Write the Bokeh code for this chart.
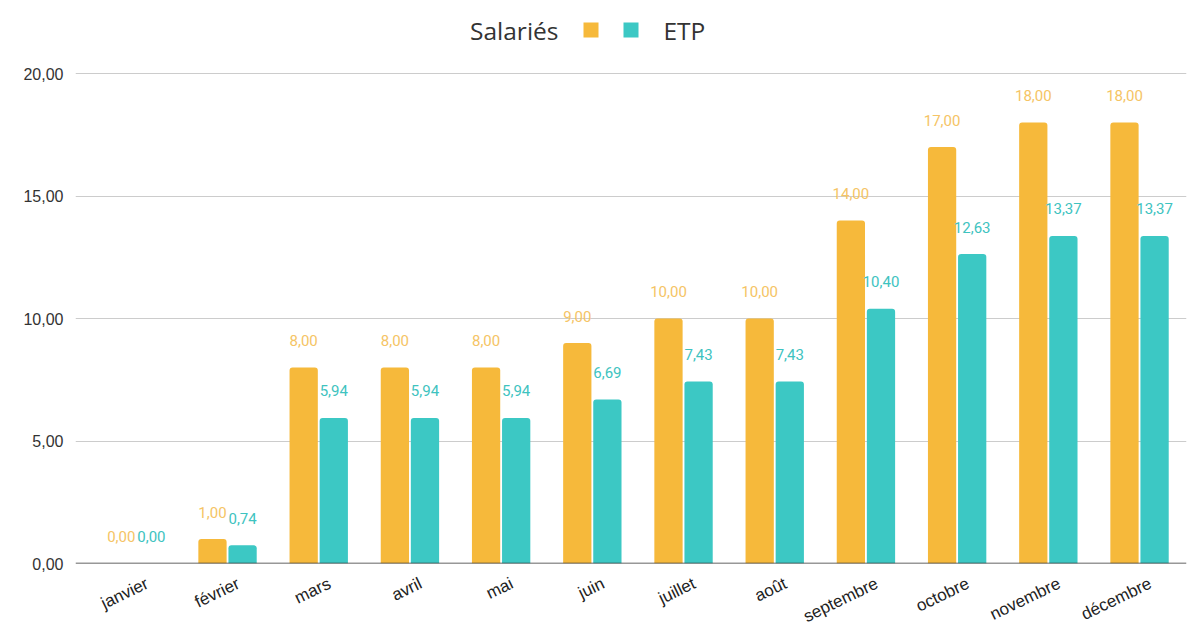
from bokeh.plotting import figure
from bokeh.layouts import column
from bokeh.models import ColumnDataSource, Range1d, FixedTicker, Span, LinearAxis
from bokeh.core.properties import value
from bokeh.embed import file_html
from bokeh.resources import INLINE

months = ["janvier", "février", "mars", "avril", "mai", "juin", "juillet",
          "août", "septembre", "octobre", "novembre", "décembre"]
salaries = [0, 1, 8, 8, 8, 9, 10, 10, 14, 17, 18, 18]
etp = [0, 0.74, 5.94, 5.94, 5.94, 6.69, 7.43, 7.43, 10.40, 12.63, 13.37, 13.37]
y_ticks = [0, 5, 10, 15, 20]

ORANGE = "#F6B93B"
TEAL = "#3CC8C4"
ORANGE_TXT = "#F5C465"
TEAL_TXT = "#3EC3C0"

def fr(v):
    return f"{v:.2f}".replace(".", ",")

idx = list(range(len(months)))
src = ColumnDataSource(dict(
    x_s=[i - 0.165 for i in idx],
    x_e=[i + 0.165 for i in idx],
    sal=salaries,
    etp=etp,
    sal_lbl=[fr(v) for v in salaries],
    etp_lbl=[fr(v) for v in etp],
))

X0, X1 = -0.667, 11.515
LBL_SHIFT = 0.12

# ---------- legend strip (frame aligned with the chart frame: 75..1186 px) ----------
leg = figure(frame_width=1111, frame_height=50, x_range=Range1d(75, 1186),
             y_range=Range1d(50, 0), output_backend="svg", toolbar_location=None,
             min_border=0, min_border_left=75, min_border_right=3)
leg.axis.visible = False
leg.grid.visible = False
leg.outline_line_color = None
leg.text(x=[558], y=[30], text=["Salariés"], text_font=value("Open Sans"),
         text_font_size="24.5px", text_color="#333333", text_align="right",
         text_baseline="middle")
leg.rect(x=[590.5], y=[29.5], width=15, height=15, fill_color=ORANGE, line_color=None)
leg.rect(x=[630.5], y=[29.5], width=15, height=15, fill_color=TEAL, line_color=None)
leg.text(x=[663], y=[30], text=["ETP"], text_font=value("Open Sans"),
         text_font_size="24.5px", text_color="#333333", text_align="left",
         text_baseline="middle")

# ---------- main chart ----------
p = figure(frame_width=1111, frame_height=513, x_range=Range1d(X0, X1),
           y_range=Range1d(0, 20.94), output_backend="svg", toolbar_location=None,
           min_border_left=75, min_border_right=3, min_border_top=0,
           min_border_bottom=0, x_axis_location=None)
p.outline_line_color = None
p.xgrid.visible = False
p.ygrid.grid_line_color = "#CCCCCC"
p.ygrid.grid_line_width = 1

p.vbar(x="x_s", top="sal", width=0.31, source=src, fill_color=ORANGE,
       line_color=None, border_radius=(3, 3, 0, 0))
p.vbar(x="x_e", top="etp", width=0.31, source=src, fill_color=TEAL,
       line_color=None, border_radius=(3, 3, 0, 0))

p.text(x="x_s", y="sal", text="sal_lbl", source=src, y_offset=-27,
       text_font=value("Roboto"), text_font_size="15px", text_color=ORANGE_TXT,
       text_align="center", text_baseline="middle")
p.text(x="x_e", y="etp", text="etp_lbl", source=src, y_offset=-27,
       text_font=value("Roboto"), text_font_size="15px", text_color=TEAL_TXT,
       text_align="center", text_baseline="middle")

p.add_layout(Span(location=0, dimension="width", line_color="#333333",
                  line_width=1.5, level="overlay"))

p.yaxis.ticker = FixedTicker(ticks=y_ticks)
p.yaxis.major_label_overrides = {t: fr(t) for t in y_ticks}
p.yaxis.axis_line_color = None
p.yaxis.major_tick_line_color = None
p.yaxis.minor_tick_line_color = None
p.yaxis.major_label_standoff = 6
p.yaxis.major_label_text_font = "Liberation Sans"
p.yaxis.major_label_text_font_size = "16px"
p.yaxis.major_label_text_color = "#333333"

# month labels on an axis whose range is shifted slightly so labels end right of the bar pair
p.extra_x_ranges = {"lbl": Range1d(X0 - LBL_SHIFT, X1 - LBL_SHIFT)}
xax = LinearAxis(x_range_name="lbl", ticker=FixedTicker(ticks=idx),
                 major_label_overrides={i: m for i, m in zip(idx, months)},
                 axis_line_color=None, major_tick_line_color=None,
                 minor_tick_line_color=None, major_label_orientation=0.45,
                 major_label_standoff=13, major_label_text_font="Liberation Sans",
                 major_label_text_font_size="17px", major_label_text_color="#222222")
p.add_layout(xax, "below")

layout = column(leg, p, spacing=0)
open("out.html", "w").write(file_html(layout, INLINE))
